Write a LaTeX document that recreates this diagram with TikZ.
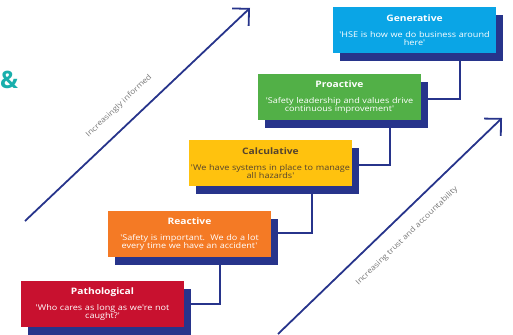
\documentclass[tikz,border=0pt]{standalone}
\usepackage{fontspec}
\setmainfont{Open Sans}
\newfontfamily\widefont[FakeStretch=1.15]{Open Sans}
\usetikzlibrary{arrows.meta}

\definecolor{navy}{HTML}{27348B}
\definecolor{genblue}{HTML}{0AA5E6}
\definecolor{progreen}{HTML}{52B047}
\definecolor{calcyellow}{HTML}{FFC20E}
\definecolor{reactorange}{HTML}{F47A25}
\definecolor{pathred}{HTML}{C8112F}
\definecolor{darktext}{HTML}{54432F}
\definecolor{teal}{HTML}{19AFAC}
\definecolor{labelgray}{HTML}{777777}

\newcommand\stagetitle[1]{{\widefont\bfseries\fontsize{8.9}{8.3}\selectfont #1}\\[7.4pt]}

\begin{document}
\begin{tikzpicture}[x=1pt,y=-1pt,
  stagebox/.style={rectangle, minimum width=163pt, minimum height=46pt,
    inner sep=0pt, text width=160pt, align=center, text=white,
    font=\widefont\fontsize{7.9}{8.3}\selectfont},
  backing/.style={rectangle, fill=navy, minimum width=163pt,
    minimum height=46pt, inner sep=0pt},
  link/.style={draw=navy, line width=2pt},
  trend/.style={draw=navy, line width=1.8pt,
    -{Straight Barb[length=12pt, width=24pt, line width=1.8pt]}},
  trendlabel/.style={text=labelgray, inner sep=0pt,
    font=\widefont\fontsize{7.5}{8}\selectfont}]

\useasboundingbox (0,0) rectangle (513,334);

% shadows behind each stage
\node[backing] (genS)   at (421.5,38)  {};
\node[backing] (proS)   at (346.5,105) {};
\node[backing] (calcS)  at (277.5,171) {};
\node[backing] (reactS) at (196.5,242) {};
\node[backing] (pathS)  at (109.5,312) {};

% connectors between the shadows
\coordinate (k1) at (460,99);
\coordinate (k2) at (390,165);
\coordinate (k3) at (312,233);
\coordinate (k4) at (220,304);
\draw[link] (genS.south -| k1) |- (proS.east |- k1);
\draw[link] (proS.south -| k2) |- (calcS.east |- k2);
\draw[link] (calcS.south -| k3) |- (reactS.east |- k3);
\draw[link] (reactS.south -| k4) |- (pathS.east |- k4);

% the stages
\node[stagebox, fill=genblue] (gen) at (414.5,30)
  {\stagetitle{Generative}'HSE is how we do business around\\here'};
\node[stagebox, fill=progreen] (pro) at (339.5,97)
  {\stagetitle{Proactive}'Safety leadership and values drive\\continuous improvement'};
\node[stagebox, fill=calcyellow, text=darktext] (calc) at (270.5,163)
  {\stagetitle{Calculative}'We have systems in place to manage\\all hazards'};
\node[stagebox, fill=reactorange] (react) at (189.5,234)
  {\stagetitle{Reactive}'Safety is important.\ \ We do a lot\\every time we have an accident'};
\node[stagebox, fill=pathred] (path) at (102.5,304)
  {\stagetitle{Pathological}'Who cares as long as we're not\\caught?'};

% trend arrows
\coordinate (t1s) at (25,221);
\coordinate (t1e) at (250,8);
\coordinate (t2s) at (278,334);
\coordinate (t2e) at (502,118);
\draw[trend] (t1s) -- (t1e);
\draw[trend] (t2s) -- (t2e);
\node[trendlabel, rotate=43.4] (lab1) at (119,106) {Increasingly informed};
\node[trendlabel, rotate=44] (lab2) at (407,236) {Increasing trust and accountability};

% ampersand at the left edge
\node[text=teal, inner sep=0pt, font=\bfseries\fontsize{24}{25}\selectfont] (amp) at (9,80) {\&};

\end{tikzpicture}
\end{document}
